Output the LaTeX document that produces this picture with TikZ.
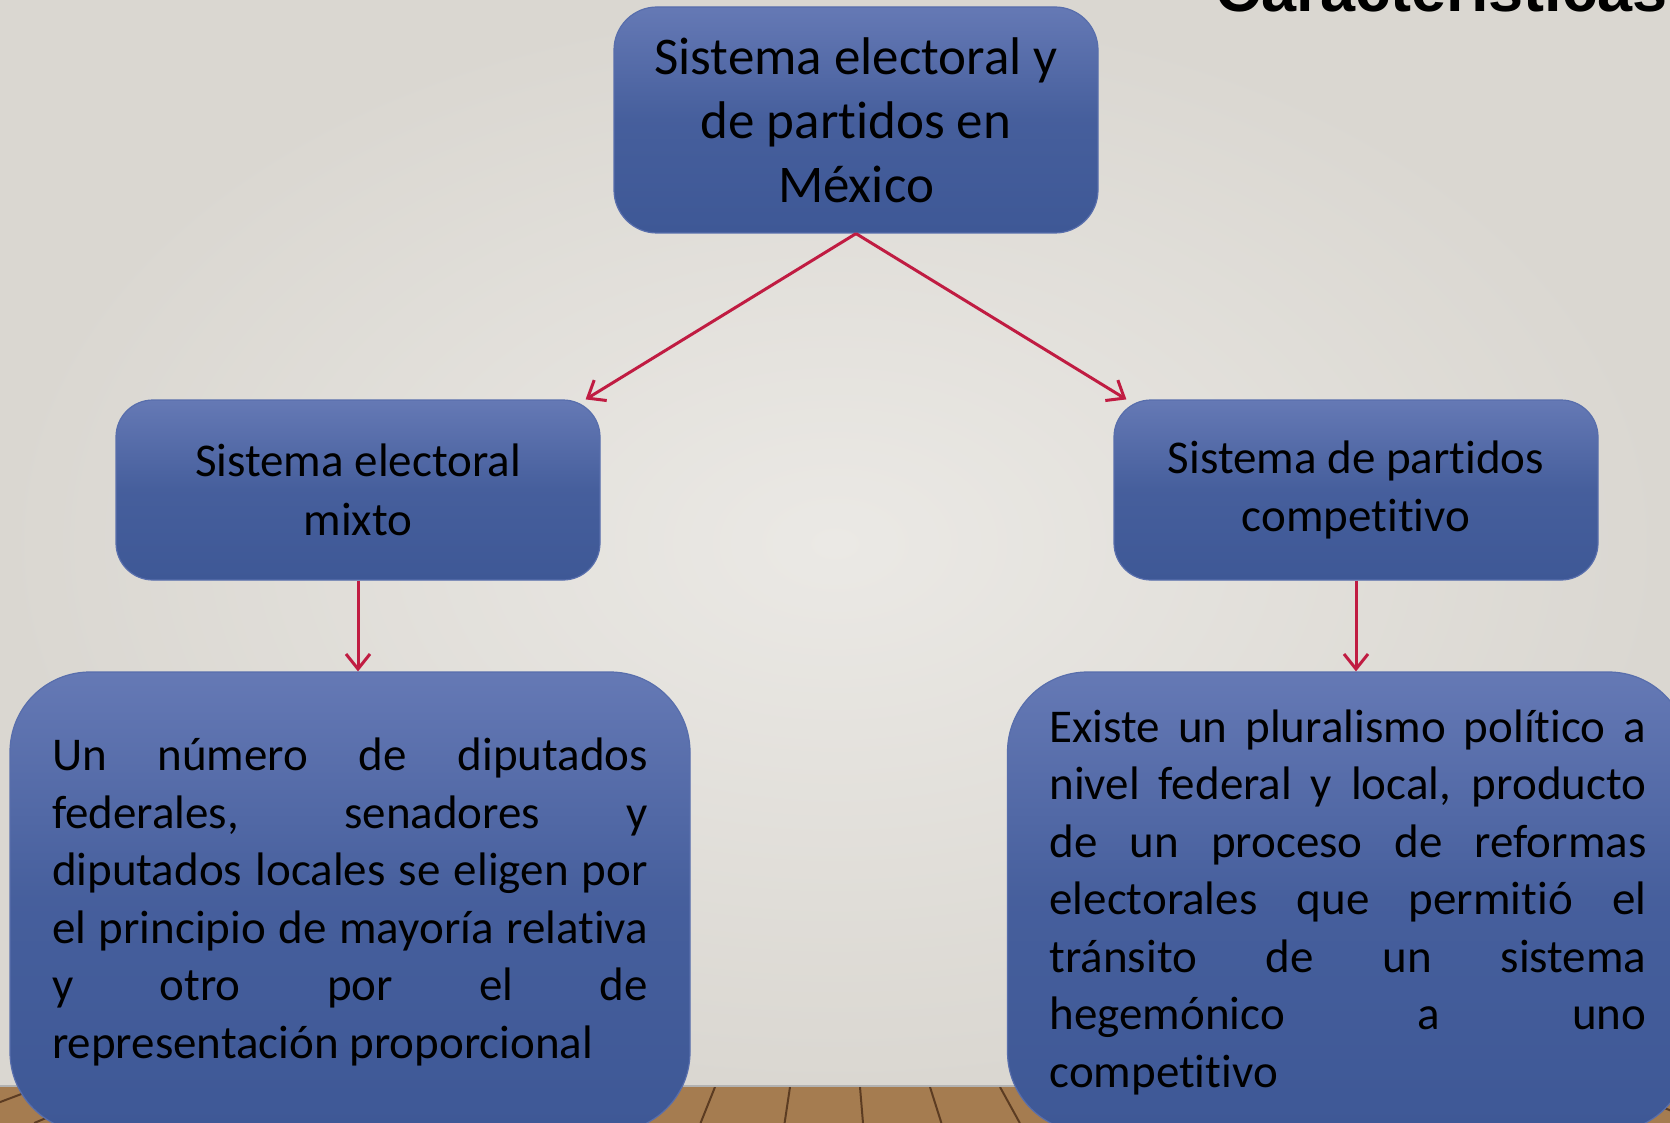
\documentclass[tikz,border=0pt]{standalone}
\usepackage{fontspec}
\setmainfont[RawFeature={-liga;-clig;-dlig;-calt}]{Carlito}
\newfontfamily\titlefont{Liberation Sans}
\usetikzlibrary{arrows.meta}
\definecolor{boxtop}{RGB}{101,121,181}
\definecolor{boxbot}{RGB}{62,88,150}
\definecolor{boxedge}{RGB}{88,110,172}
\definecolor{linkred}{RGB}{192,28,66}
\definecolor{wallin}{RGB}{235,233,229}
\definecolor{wallout}{RGB}{218,215,209}
\definecolor{wood}{RGB}{165,124,80}
\definecolor{wooddark}{RGB}{92,60,34}
\tolerance=9999
\hyphenpenalty=10000

\begin{document}
\begin{tikzpicture}[x=1pt,y=-1pt,
        box/.style={rectangle,rounded corners=#1,draw=boxedge,line width=1.2pt,
            top color=boxtop,bottom color=boxbot,middle color=boxbot!80!boxtop,
            inner sep=0pt,align=center,text=black},
        link/.style={draw=linkred,line width=3pt,-{Straight Barb[length=15pt,width=24pt]}}]
    \useasboundingbox (0,0) rectangle (1670,1123);
    \clip (0,0) rectangle (1670,1123);

    % Wall and floor
    \shade[inner color=wallin,outer color=wallout] (0,0) rectangle (1670,1087);
    \fill[wood] (0,1087) rectangle (1670,1123);
    \foreach \x in {40,120,210,300,390,470,560,640,715,790,860,930,1000,1080,1160,1250,1340,1430,1520,1610}
        \draw[wooddark,line width=2pt] (\x,1087) -- ({\x+(\x-835)*0.12},1123);
    \draw[gray!60,line width=2pt] (0,1086) -- (1670,1086);

    % Title
    \node[anchor=base west,font=\titlefont\bfseries\fontsize{63}{70}\selectfont] (title) at (1212,12) {Características};

    % Boxes
    \node[box=43pt,minimum width=484pt,minimum height=226pt,font=\fontsize{53}{64}\selectfont] (sys) at (856,120)
        {Sistema electoral y\\de partidos en\\México};
    \node[box=37pt,minimum width=484pt,minimum height=180pt,font=\fontsize{47}{58.5}\selectfont] (mixto) at (358,490)
        {Sistema electoral\\mixto};
    \node[box=37pt,minimum width=484pt,minimum height=180pt,font=\fontsize{47}{58.5}\selectfont] (comp) at (1356,490)
        {Sistema de partidos\\competitivo};
    \node[box=80pt,minimum width=680pt,minimum height=460pt,text width=596pt,align=justify,
        font=\fontsize{47}{57.5}\selectfont] (mixtotxt) at (350,902)
        {Un número de diputados\linebreak federales, senadores y\linebreak diputados locales se eligen por\linebreak
        el principio de mayoría relativa\linebreak y otro por el de\linebreak representación proporcional};
    \node[box=80pt,minimum width=681pt,minimum height=460pt,text width=597pt,align=justify,
        font=\fontsize{47}{57.5}\selectfont] (comptxt) at (1348,902)
        {Existe un pluralismo político a\linebreak nivel federal y local, producto\linebreak de un proceso de reformas\linebreak
        electorales que permitió el\linebreak tránsito de un sistema\linebreak hegemónico a uno\linebreak competitivo};

    % Arrows
    \draw[link] (sys.south) -- ([xshift=-15pt]mixto.north east);
    \draw[link] (sys.south) -- ([xshift=13pt]comp.north west);
    \draw[link] (mixto.south) -- (mixto.south |- mixtotxt.north);
    \draw[link] (comp.south) -- (comp.south |- comptxt.north);
\end{tikzpicture}
\end{document}
